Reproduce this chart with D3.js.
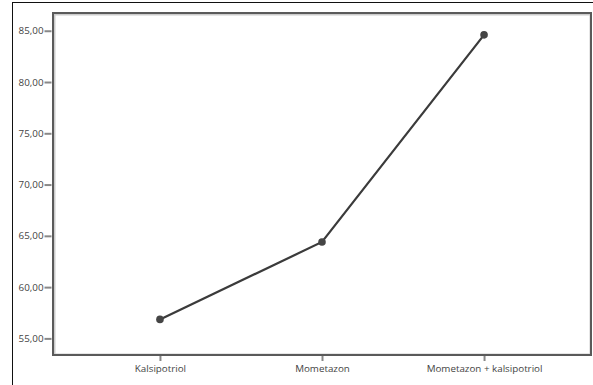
<!DOCTYPE html>
<html>
<head>
<meta charset="utf-8">
<script src="https://cdn.jsdelivr.net/npm/d3@7"></script>
<style>
  html, body { margin: 0; padding: 0; background: #fff; }
  svg { display: block; }
  text { font-family: "Open Sans", "Noto Sans", sans-serif; fill: #444; }
</style>
</head>
<body>
<svg id="chart" width="593" height="385"></svg>
<script>
const categories = ["Kalsipotriol", "Mometazon", "Mometazon + kalsipotriol"];
const values = [56.85, 64.4, 84.6];
const yTicks = [55, 60, 65, 70, 75, 80, 85];
const yTickLabels = ["55,00", "60,00", "65,00", "70,00", "75,00", "80,00", "85,00"];

const svg = d3.select("#chart");
const W = 593, H = 385;
const plot = { left: 53, right: 591, top: 13, bottom: 355 };

// outer frame (left and top lines)
svg.append("line").attr("x1", 12.5).attr("x2", 12.5).attr("y1", 2.5).attr("y2", H)
  .attr("stroke", "#111").attr("stroke-width", 1);
svg.append("line").attr("x1", 12).attr("x2", W).attr("y1", 2.5).attr("y2", 2.5)
  .attr("stroke", "#111").attr("stroke-width", 1);

const x = d3.scalePoint().domain(categories).range([plot.left, plot.right]).padding(0.66);
const y = d3.scaleLinear().domain([53.38, 86.73]).range([plot.bottom, plot.top]);

const defs = svg.append("defs");
const f = defs.append("filter").attr("id", "soft").attr("x", "-5%").attr("y", "-5%").attr("width", "110%").attr("height", "110%");
f.append("feGaussianBlur").attr("stdDeviation", 0.6);

// plot box with soft inner shadow
svg.append("rect")
  .attr("x", plot.left + 1.5).attr("y", plot.top + 1.5)
  .attr("width", plot.right - plot.left - 2).attr("height", plot.bottom - plot.top - 2)
  .attr("fill", "none").attr("stroke", "#ccc").attr("stroke-width", 2).attr("filter", "url(#soft)");
svg.append("rect")
  .attr("x", plot.left).attr("y", plot.top)
  .attr("width", plot.right - plot.left).attr("height", plot.bottom - plot.top)
  .attr("fill", "none").attr("stroke", "#5a5a5a").attr("stroke-width", 2).attr("filter", "url(#soft)");
// lighter, thicker left edge like the reference
svg.append("line").attr("x1", plot.left).attr("x2", plot.left).attr("y1", plot.top).attr("y2", plot.bottom)
  .attr("stroke", "#888").attr("stroke-width", 2.6).attr("filter", "url(#soft)");

// y axis
const yAxis = d3.axisLeft(y).tickValues(yTicks).tickSize(7).tickPadding(1)
  .tickFormat((d, i) => yTickLabels[i]);
const gy = svg.append("g").attr("transform", `translate(${plot.left - 1.5},0)`).call(yAxis);
gy.select(".domain").remove();
gy.selectAll(".tick line").attr("stroke", "#888").attr("stroke-width", 2);
gy.selectAll(".tick text").attr("font-size", 9.8).attr("fill", "#444").style("font-family", "'Open Sans', sans-serif");

// x axis
const xAxis = d3.axisBottom(x).tickSize(5).tickPadding(4);
const gx = svg.append("g").attr("transform", `translate(0,${plot.bottom + 1})`).call(xAxis);
gx.select(".domain").remove();
gx.selectAll(".tick line").attr("stroke", "#888").attr("stroke-width", 2);
gx.selectAll(".tick text").attr("font-size", 9.8).attr("fill", "#444").style("font-family", "'Open Sans', sans-serif");

// line
const data = categories.map((c, i) => ({ c, v: values[i] }));
const line = d3.line().x(d => x(d.c)).y(d => y(d.v));
svg.append("path").datum(data).attr("d", line)
  .attr("fill", "none").attr("stroke", "#3a3a3a").attr("stroke-width", 2.2).attr("filter", "url(#soft)");

svg.selectAll("circle.pt").data(data).enter().append("circle")
  .attr("class", "pt")
  .attr("cx", d => x(d.c)).attr("cy", d => y(d.v)).attr("r", 3.8)
  .attr("fill", "#444").attr("filter", "url(#soft)");
</script>
</body>
</html>
